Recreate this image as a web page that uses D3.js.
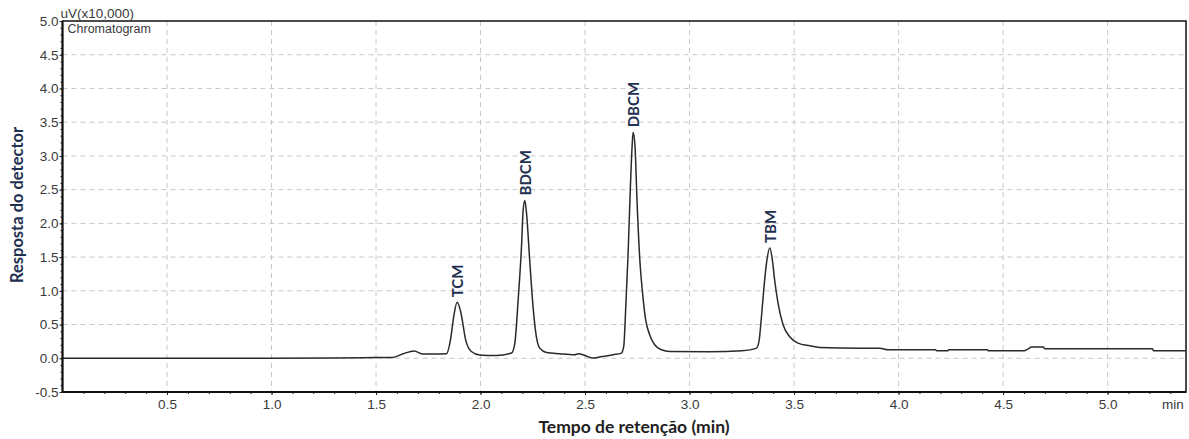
<!DOCTYPE html>
<html><head><meta charset="utf-8">
<script src="https://cdn.jsdelivr.net/npm/d3@7"></script>
<style>body{margin:0;background:#fff}svg{display:block}</style>
</head><body><svg id="c" width="1189" height="439"></svg>
<script>
// ---- data ----
const timeMin = [0, 0.5, 1.0, 1.3, 1.5, 1.58, 1.63, 1.682, 1.725, 1.8, 1.837, 1.856, 1.873, 1.888, 1.905, 1.929, 1.956, 1.996, 2.044, 2.076, 2.148, 2.164, 2.180, 2.196, 2.204, 2.212, 2.220, 2.235, 2.251, 2.267, 2.283, 2.315, 2.379, 2.451, 2.467, 2.499, 2.538, 2.569, 2.634, 2.674, 2.685, 2.695, 2.706, 2.717, 2.725, 2.730, 2.739, 2.749, 2.762, 2.775, 2.790, 2.809, 2.833, 2.866, 2.905, 3.097, 3.25, 3.320, 3.333, 3.344, 3.355, 3.368, 3.384, 3.396, 3.407, 3.423, 3.447, 3.479, 3.519, 3.575, 3.623, 3.815, 3.910, 3.950, 4.175, 4.185, 4.235, 4.240, 4.425, 4.430, 4.600, 4.620, 4.636, 4.692, 4.700, 5.215, 5.220, 5.374];
const response = [0, 0, 0, 0.005, 0.01, 0.012, 0.067, 0.107, 0.062, 0.064, 0.067, 0.27, 0.645, 0.83, 0.69, 0.27, 0.10, 0.047, 0.042, 0.040, 0.077, 0.226, 0.868, 1.66, 2.20, 2.34, 2.15, 1.46, 0.77, 0.32, 0.15, 0.086, 0.067, 0.052, 0.067, 0.042, 0.003, 0.018, 0.052, 0.077, 0.175, 0.77, 1.56, 2.55, 3.14, 3.35, 3.14, 2.30, 1.46, 0.97, 0.57, 0.35, 0.20, 0.126, 0.10, 0.095, 0.11, 0.15, 0.27, 0.62, 1.02, 1.41, 1.635, 1.46, 1.16, 0.82, 0.50, 0.32, 0.225, 0.185, 0.16, 0.15, 0.15, 0.126, 0.126, 0.11, 0.11, 0.126, 0.126, 0.11, 0.11, 0.14, 0.166, 0.166, 0.14, 0.14, 0.11, 0.11];
const peakNames = ["TCM", "BDCM", "DBCM", "TBM"];
const peakTimes = [1.888, 2.212, 2.730, 3.384];
const xTickValues = [0.5, 1.0, 1.5, 2.0, 2.5, 3.0, 3.5, 4.0, 4.5, 5.0];
const xTickLabels = ["0.5", "1.0", "1.5", "2.0", "2.5", "3.0", "3.5", "4.0", "4.5", "5.0"];
const yTickValues = [-0.5, 0.0, 0.5, 1.0, 1.5, 2.0, 2.5, 3.0, 3.5, 4.0, 4.5, 5.0];
const yTickLabels = ["-0.5", "0.0", "0.5", "1.0", "1.5", "2.0", "2.5", "3.0", "3.5", "4.0", "4.5", "5.0"];

// ---- layout ----
const L = 62.5, R = 1186, T = 21, B = 392;
const svg = d3.select("#c");
const x = d3.scaleLinear().domain([0, 5.375]).range([L, R]);
const y = d3.scaleLinear().domain([-0.5, 5.0]).range([B, T]);
const tickFont = "Liberation Sans, Arial, sans-serif";
const grey = "#3a3a3a";

// grid
const g = svg.append("g");
g.selectAll("line.vg").data(xTickValues).join("line")
  .attr("x1", d => x(d)).attr("x2", d => x(d)).attr("y1", T).attr("y2", B)
  .attr("stroke", "#c8c8c8").attr("stroke-dasharray", "5,4").attr("stroke-width", 1);
g.selectAll("line.hg").data(yTickValues.filter(v => v > -0.5 && v < 5)).join("line")
  .attr("y1", d => y(d)).attr("y2", d => y(d)).attr("x1", L).attr("x2", R)
  .attr("stroke", "#c8c8c8").attr("stroke-dasharray", "5,4").attr("stroke-width", 1);

// trace
const pts = timeMin.map((t, i) => [t, response[i]]);
svg.append("path").datum(pts)
  .attr("d", d3.line().curve(d3.curveMonotoneX).x(d => x(d[0])).y(d => y(d[1])))
  .attr("fill", "none").attr("stroke", "#2a2a2a").attr("stroke-width", 1.5).attr("stroke-linejoin", "round");

// axes
const xAxis = d3.axisBottom(x).tickValues(xTickValues).tickFormat((d, i) => xTickLabels[i]).tickSize(3).tickPadding(4);
const xMinor = d3.axisBottom(x).tickValues(d3.range(1, 54).map(i => i / 10)).tickFormat("").tickSize(2);
const yAxis = d3.axisLeft(y).tickValues(yTickValues).tickFormat((d, i) => yTickLabels[i]).tickSize(3).tickPadding(1);
const yMinor = d3.axisLeft(y).tickValues(d3.range(-4, 50).map(i => i / 10)).tickFormat("").tickSize(2);

function style(sel) {
  sel.select(".domain").remove();
  sel.selectAll("line").attr("stroke", "#222");
  sel.selectAll("text").attr("font-family", tickFont).attr("font-size", 13.5).attr("fill", grey);
}
svg.append("g").attr("transform", `translate(0,${B})`).call(xMinor).call(style);
svg.append("g").attr("transform", `translate(0,${B})`).call(xAxis).call(style);
svg.append("g").attr("transform", `translate(${L},0)`).call(yMinor).call(style);
svg.append("g").attr("transform", `translate(${L},0)`).call(yAxis).call(style);

// frame
svg.append("rect").attr("x", L).attr("y", T).attr("width", R - L).attr("height", B - T)
  .attr("fill", "none").attr("stroke", "#111").attr("stroke-width", 1.5);
svg.append("line").attr("x1", L).attr("x2", L).attr("y1", T).attr("y2", B).attr("stroke", "#111").attr("stroke-width", 2);
svg.append("line").attr("x1", L).attr("x2", R).attr("y1", B).attr("y2", B).attr("stroke", "#111").attr("stroke-width", 2);

// texts
svg.append("text").attr("x", L - 2).attr("y", 18).text("uV(x10,000)")
  .attr("font-family", tickFont).attr("font-size", 13.5).attr("fill", grey);
svg.append("text").attr("x", L + 5).attr("y", 33).text("Chromatogram")
  .attr("font-family", tickFont).attr("font-size", 12.5).attr("fill", grey);
svg.append("text").attr("x", 1173).attr("y", B + 16.5).attr("text-anchor", "middle").text("min")
  .attr("font-family", tickFont).attr("font-size", 13.5).attr("fill", grey);

svg.append("text").attr("x", 634).attr("y", 433).attr("text-anchor", "middle").text("Tempo de retenção (min)")
  .attr("font-family", "Lato, sans-serif").attr("font-weight", "bold").attr("font-size", 17.5).attr("fill", "#222");
svg.append("text").attr("transform", "translate(23,205) rotate(-90)").attr("text-anchor", "middle").text("Resposta do detector")
  .attr("font-family", "Lato, sans-serif").attr("font-weight", "bold").attr("font-size", 16.5).attr("fill", "#1f3050");

// peak labels
peakNames.forEach((name, i) => {
  const t = peakTimes[i];
  const idx = d3.minIndex(timeMin, v => Math.abs(v - t));
  const px = x(timeMin[idx]), py = y(response[idx]);
  svg.append("text").attr("transform", `translate(${px + 1},${py - 5}) rotate(-90)`)
    .attr("dy", "0.35em").text(name)
    .attr("font-family", "Lato, sans-serif").attr("font-weight", "bold").attr("font-size", 15).attr("fill", "#1f3050");
});
</script></body></html>
